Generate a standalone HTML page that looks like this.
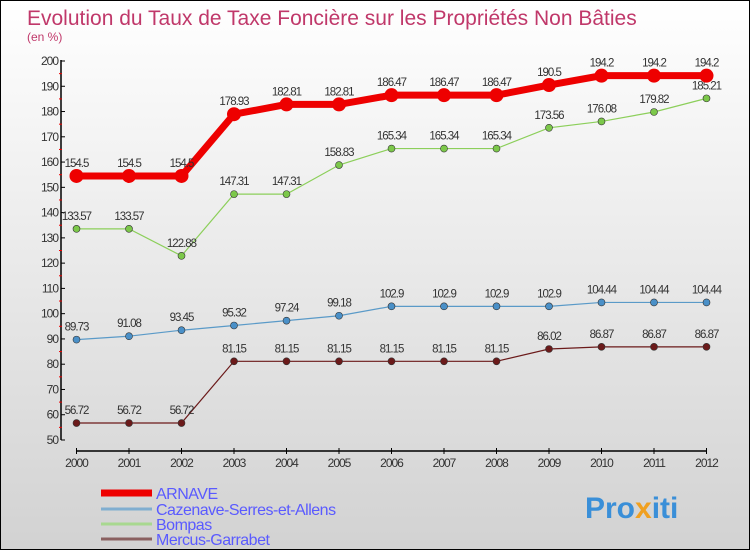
<!DOCTYPE html>
<html><head><meta charset="utf-8"><style>
body{margin:0}
#c{width:750px;height:550px;position:relative;box-sizing:border-box;border:1px solid #000;background:linear-gradient(#ffffff,#d2d2d2);font-family:"Liberation Sans",sans-serif;overflow:hidden}
</style></head><body>
<div id="c">
<svg id="s" width="750" height="550" style="position:absolute;left:0;top:0">
<text x="26" y="24" font-size="21" fill="#c0386a">Evolution du Taux de Taxe Foncière sur les Propriétés Non Bâties</text>
<text x="26" y="40" font-size="12" fill="#c0386a">(en %)</text>
<text x="584" y="517" font-size="30" font-weight="bold" fill="#3a8fd8">Pro<tspan fill="#f0a020">x</tspan>iti</text>
</svg>
</div>
<script>
const years=["2000","2001","2002","2003","2004","2005","2006","2007","2008","2009","2010","2011","2012"];
const yTicks=[50,60,70,80,90,100,110,120,130,140,150,160,170,180,190,200];
const arnave=[154.5,154.5,154.5,178.93,182.81,182.81,186.47,186.47,186.47,190.5,194.2,194.2,194.2];
const cazenave=[89.73,91.08,93.45,95.32,97.24,99.18,102.9,102.9,102.9,102.9,104.44,104.44,104.44];
const bompas=[133.57,133.57,122.88,147.31,147.31,158.83,165.34,165.34,165.34,173.56,176.08,179.82,185.21];
const mercus=[56.72,56.72,56.72,81.15,81.15,81.15,81.15,81.15,81.15,86.02,86.87,86.87,86.87];
const names=["ARNAVE","Cazenave-Serres-et-Allens","Bompas","Mercus-Garrabet"];
const s=document.getElementById('s');const NS="http://www.w3.org/2000/svg";
const X=i=>75.5+i*52.5;const Y=v=>439-(v-50)*(379/150);
function el(t,a,p){const e=document.createElementNS(NS,t);for(const k in a)e.setAttribute(k,a[k]);(p||s).appendChild(e);return e;}
let ax=el('line',{x1:60,y1:59,x2:60,y2:439,stroke:'#000','stroke-width':1.5});


let bx=el('line',{x1:75,y1:450,x2:706,y2:450,stroke:'#000','stroke-width':1.5});


yTicks.forEach(v=>{el('line',{x1:60,y1:Y(v),x2:64,y2:Y(v),stroke:'#000'});
if(v<200)el('line',{x1:58,y1:Y(v+5),x2:61,y2:Y(v+5),stroke:'#e00'});
const t=el('text',{x:57,y:Y(v)+4,'text-anchor':'end','font-size':12,fill:'#333','letter-spacing':'-1'});t.textContent=v;

});
years.forEach((y,i)=>{el('line',{x1:X(i),y1:447,x2:X(i),y2:453,stroke:'#000'});
const t=el('text',{x:X(i),y:466,'text-anchor':'middle','font-size':12,fill:'#333','letter-spacing':'-1'});t.textContent=y;

});
const series=[[mercus,'#6b1a1a','#6b1a1a',1.2,3.5],[cazenave,'#5a9ac8','#4a90c8',1.2,3.5],[bompas,'#8ccf5a','#7cc84a',1.2,3.5],[arnave,'#ee0000','#ee0000',7,7]];
series.forEach(([d,c,f,w,r],si)=>{
const p=el('polyline',{points:d.map((v,i)=>X(i)+','+Y(v)).join(' '),fill:'none',stroke:c,'stroke-width':w});


d.forEach((v,i)=>{const m=el('circle',{cx:X(i),cy:Y(v),r:r,fill:f,stroke:r>5?'none':'#333','stroke-width':0.6});


const t=el('text',{x:X(i),y:Y(v)-9,'text-anchor':'middle','font-size':11.5,fill:'#333','letter-spacing':'-1'});t.textContent=String(v);

});});
const lc=['#ee0000','#80aed0','#a8d890','#8a6060'],lw=[7,3,3,3],ly=[492,508,523,538];
names.forEach((n,i)=>{el('line',{x1:100,y1:ly[i],x2:151,y2:ly[i],stroke:lc[i],'stroke-width':lw[i]});
const t=el('text',{x:155,y:ly[i]+6,'font-size':16,fill:'#5a5aff','letter-spacing':'-0.5'});t.textContent=n;

});
</script>
</body></html>
